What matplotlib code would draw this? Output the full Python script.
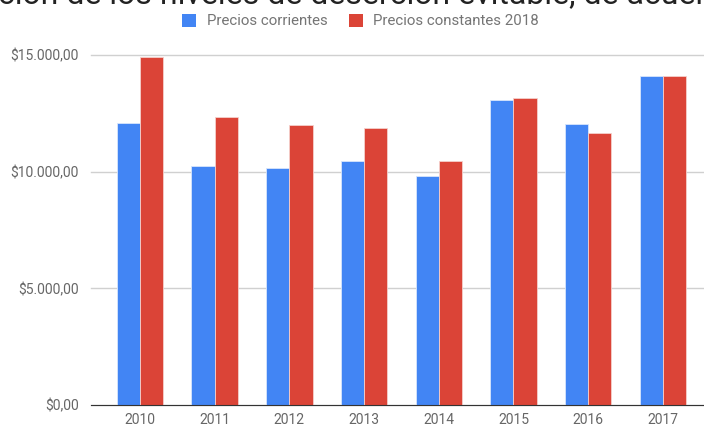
import numpy as np
import matplotlib.pyplot as plt
from matplotlib.patches import Patch
from matplotlib.ticker import FuncFormatter

plt.rcParams['font.family'] = ['Roboto', 'DejaVu Sans']

# Datos
years = ['2010', '2011', '2012', '2013', '2014', '2015', '2016', '2017']
corrientes = [12100, 10250, 10150, 10470, 9830, 13070, 12040, 14110]
constantes = [14900, 12350, 12000, 11870, 10470, 13170, 11670, 14110]
series_names = ['Precios corrientes', 'Precios constantes 2018']
colores = ['#4285F4', '#DB4437']
titulo = 'ción de los niveles de deserción evitable, de acuerdo'  # recortado en la imagen

fig = plt.figure(figsize=(7.04, 4.29), dpi=100)
ax = fig.add_axes([91 / 704, 24 / 429, 613 / 704, 350 / 429])

x = np.arange(len(years))
w = 0.31
ax.bar(x - w / 2, corrientes, w, color=colores[0], edgecolor='#d8e6fc', linewidth=0.6, zorder=3)
ax.bar(x + w / 2, constantes, w, color=colores[1], edgecolor='#f5d0cc', linewidth=0.6, zorder=3)

ax.set_xlim(-0.655, 7.55)
ax.set_ylim(0, 15000)
ax.set_yticks([0, 5000, 10000, 15000])
ax.yaxis.set_major_formatter(FuncFormatter(
    lambda v, p: '$' + f'{v:,.2f}'.replace(',', 'X').replace('.', ',').replace('X', '.')))
ax.set_xticks(x)
ax.set_xticklabels(years)
ax.tick_params(length=0, labelsize=10, colors='#666666')
ax.tick_params(axis='y', pad=9)
ax.tick_params(axis='x', pad=6)
ax.grid(axis='y', color='#d0d0d0', linewidth=1, zorder=0, clip_on=False)
for s in ['top', 'right', 'left']:
    ax.spines[s].set_visible(False)
ax.spines['bottom'].set_color('#333333')
ax.spines['bottom'].set_zorder(4)

# titulo (cortado arriba, como en la imagen original)
fig.text(-2 / 704, 1 - 3 / 429, titulo, fontsize=23, color='#222222', ha='left', va='baseline')

handles = [Patch(facecolor=c, edgecolor='none') for c in colores]
fig.legend(handles, series_names, loc='center', bbox_to_anchor=(360.5 / 704, 1 - 21 / 429),
           ncol=2, frameon=False, fontsize=10.8, labelcolor='#757575',
           handlelength=0.95, handleheight=1.0, handletextpad=0.7, columnspacing=1.4)

fig.savefig('out.png', dpi=100)
